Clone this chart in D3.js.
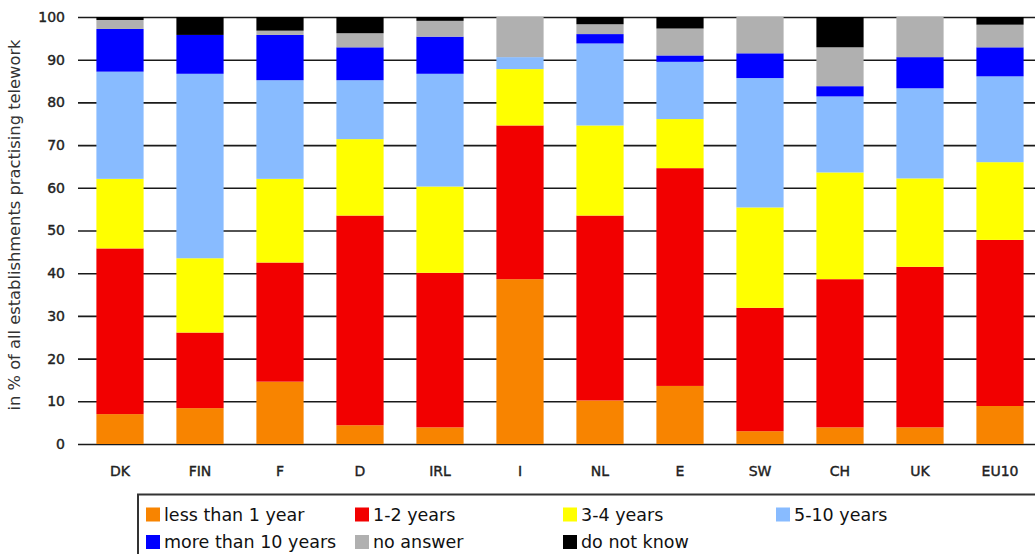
<!DOCTYPE html>
<html>
<head>
<meta charset="utf-8">
<script src="https://cdn.jsdelivr.net/npm/d3@7/dist/d3.min.js"></script>
<style>
  html, body { margin: 0; padding: 0; background: #fff; }
  svg { display: block; }
</style>
</head>
<body>
<svg id="chart" width="1035" height="554"></svg>
<script>
const categories = ["DK","FIN","F","D","IRL","I","NL","E","SW","CH","UK","EU10"];
const lessThan1Year = [7.0, 8.4, 14.6, 4.4, 3.9, 38.6, 10.2, 13.6, 3.0, 3.9, 3.9, 8.9];
const oneToTwoYears = [38.8, 17.7, 27.9, 49.1, 36.2, 36.0, 43.3, 51.0, 28.9, 34.7, 37.6, 38.9];
const threeToFourYears = [16.3, 17.4, 19.6, 17.9, 20.2, 13.2, 21.1, 11.5, 23.5, 25.0, 20.7, 18.2];
const fiveToTenYears = [25.1, 43.2, 23.1, 13.8, 26.4, 2.8, 19.2, 13.4, 30.3, 17.8, 21.1, 20.1];
const moreThan10Years = [10.0, 9.1, 10.6, 7.7, 8.7, 0.0, 2.2, 1.5, 5.8, 2.4, 7.3, 6.8];
const noAnswer = [2.1, 0.0, 1.0, 3.3, 3.7, 9.4, 2.3, 6.3, 8.5, 9.1, 9.4, 5.3];
const doNotKnow = [0.7, 4.2, 3.2, 3.8, 0.9, 0.0, 1.7, 2.7, 0.0, 7.1, 0.0, 1.8];
const seriesNames = ["less than 1 year","1-2 years","3-4 years","5-10 years","more than 10 years","no answer","do not know"];
const seriesColors = ["#f88400","#f20000","#ffff00","#88bbff","#0000ff","#b0b0b0","#000000"];
const yTicks = [0,10,20,30,40,50,60,70,80,90,100];
const yTitle = "in % of all establishments practising telework";

const seriesValues = [lessThan1Year, oneToTwoYears, threeToFourYears, fiveToTenYears, moreThan10Years, noAnswer, doNotKnow];
const table = categories.map((c, i) => {
  const row = { cat: c };
  seriesNames.forEach((s, k) => row[s] = seriesValues[k][i]);
  return row;
});

const FONT = "'DejaVu Sans', Verdana, sans-serif";
const svg = d3.select("#chart");
const gridLeft = 78, plotLeft = 80, plotRight = 1040, plotTop = 17, plotBottom = 444;

const x = d3.scaleBand().domain(categories).range([plotLeft, plotRight]).paddingInner(0.41).paddingOuter(0.205);
const y = d3.scaleLinear().domain([0, 100]).range([plotBottom, plotTop]);
const color = d3.scaleOrdinal().domain(seriesNames).range(seriesColors);

// gridlines + y labels
const yAxis = svg.append("g")
  .attr("transform", `translate(${gridLeft},0)`)
  .call(d3.axisLeft(y).tickValues(yTicks).tickSize(-(plotRight - gridLeft)).tickPadding(13).tickFormat(d3.format("d")));
yAxis.select(".domain").remove();
yAxis.selectAll(".tick line").attr("stroke", "#1a1a1a").attr("stroke-width", 1.6);
yAxis.selectAll(".tick text").attr("font-family", FONT).attr("font-size", 14).attr("fill", "#222")
  .attr("stroke", "#222").attr("stroke-width", 0.4);

// stacked bars
const stack = d3.stack().keys(seriesNames)(table);
svg.append("g").selectAll("g").data(stack).join("g")
  .attr("fill", d => color(d.key))
  .selectAll("rect").data(d => d).join("rect")
  .attr("x", d => x(d.data.cat))
  .attr("width", x.bandwidth())
  .attr("y", d => y(d[1]))
  .attr("height", d => y(d[0]) - y(d[1]));

// x labels
const xAxis = svg.append("g")
  .attr("transform", `translate(0,${plotBottom})`)
  .call(d3.axisBottom(x).tickSize(0).tickPadding(22));
xAxis.select(".domain").remove();
xAxis.selectAll(".tick text").attr("font-family", FONT).attr("font-size", 14).attr("fill", "#222")
  .attr("stroke", "#222").attr("stroke-width", 0.4);

// y title
svg.append("text")
  .attr("transform", `translate(20,225) rotate(-90)`)
  .attr("text-anchor", "middle")
  .attr("font-family", FONT)
  .attr("font-size", 16.3)
  .attr("fill", "#333")
  .text(yTitle);

// legend
const lg = svg.append("g");
lg.append("rect").attr("x", 138).attr("y", 494.5).attr("width", 920).attr("height", 80)
  .attr("fill", "#fff").attr("stroke", "#333").attr("stroke-width", 2);
const colX = [146, 355, 563, 776];
const rowY = [514.5, 542];
seriesNames.forEach((lab, i) => {
  const cx = colX[i % 4], cy = rowY[Math.floor(i / 4)];
  lg.append("rect").attr("x", cx).attr("y", cy - 7).attr("width", 14).attr("height", 14).attr("fill", seriesColors[i]);
  lg.append("text").attr("x", cx + 18).attr("y", cy).attr("dy", "0.36em")
    .attr("font-family", FONT).attr("font-size", 17.5).attr("fill", "#111")
    .text(lab);
});
</script>
</body>
</html>
